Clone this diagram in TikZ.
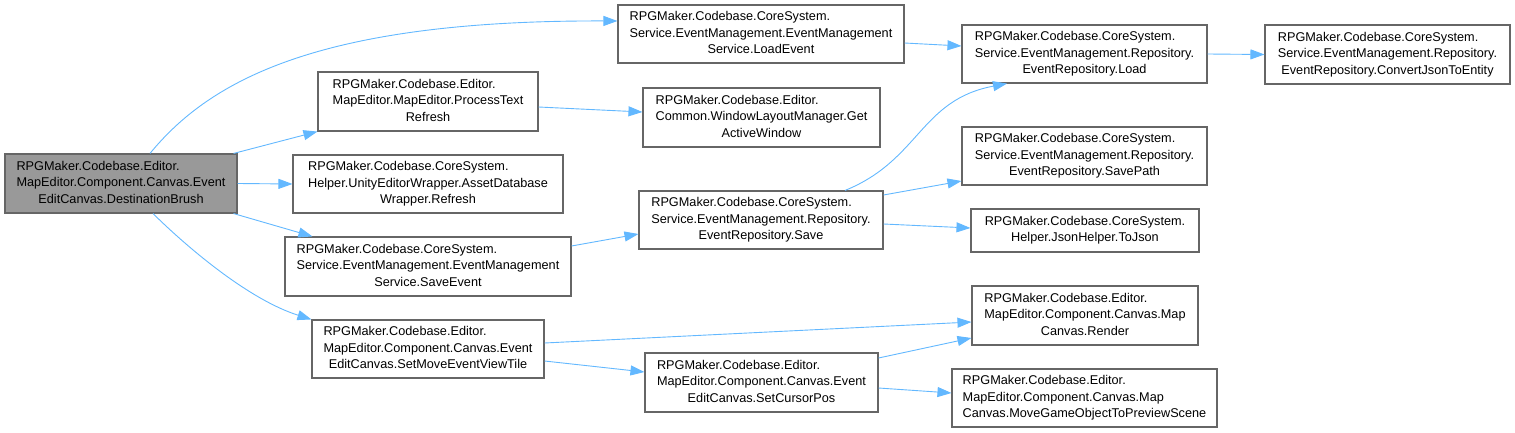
\documentclass[tikz,border=0pt]{standalone}
\usepackage{fontspec}
\setmainfont{Liberation Sans}
\usepackage{tikz}
\usepackage{xcolor}
\usetikzlibrary{arrows.meta,calc}
\definecolor{edgeblue}{HTML}{63B8FF}
\definecolor{boxline}{HTML}{666666}
\definecolor{mainfill}{HTML}{999999}
\newcommand{\calllbl}[2]{\begin{tabular}{@{}l@{}}#1\\\multicolumn{1}{@{}c@{}}{#2}\end{tabular}}
\tikzset{
  fnbox/.style={draw=boxline,fill=white,line width=1.1pt,inner sep=0pt,
                font=\fontsize{12.7}{16.3}\selectfont,text=black},
  mainbox/.style={fnbox,fill=mainfill},
  callarr/.style={-{Triangle[length=14pt,width=10pt,fill=edgeblue]},line width=0.9pt,
                  draw=edgeblue}
}
\begin{document}
\begin{tikzpicture}[x=1pt,y=1pt]
  \useasboundingbox (0,0) rectangle (1515,-433);
  \node[mainbox,minimum width=232,minimum height=59] (main) at (121,-183.5)
    {\calllbl{RPGMaker.Codebase.Editor.\\MapEditor.Component.Canvas.Event}{EditCanvas.DestinationBrush}};
  \node[fnbox,minimum width=286,minimum height=58] (loadevent) at (761,-34)
    {\calllbl{RPGMaker.Codebase.CoreSystem.\\Service.EventManagement.EventManagement}{Service.LoadEvent}};
  \node[fnbox,minimum width=220,minimum height=59] (procrefresh) at (428,-101.5)
    {\calllbl{RPGMaker.Codebase.Editor.\\MapEditor.MapEditor.ProcessText}{Refresh}};
  \node[fnbox,minimum width=270,minimum height=58] (assetrefresh) at (428,-184)
    {\calllbl{RPGMaker.Codebase.CoreSystem.\\Helper.UnityEditorWrapper.AssetDatabase}{Wrapper.Refresh}};
  \node[fnbox,minimum width=286,minimum height=59] (saveevent) at (428,-266.5)
    {\calllbl{RPGMaker.Codebase.CoreSystem.\\Service.EventManagement.EventManagement}{Service.SaveEvent}};
  \node[fnbox,minimum width=232,minimum height=58] (setmove) at (428,-349)
    {\calllbl{RPGMaker.Codebase.Editor.\\MapEditor.Component.Canvas.Event}{EditCanvas.SetMoveEventViewTile}};
  \node[fnbox,minimum width=237,minimum height=59] (activewin) at (761.5,-117.5)
    {\calllbl{RPGMaker.Codebase.Editor.\\Common.WindowLayoutManager.Get}{ActiveWindow}};
  \node[fnbox,minimum width=244,minimum height=58] (reposave) at (761,-220)
    {\calllbl{RPGMaker.Codebase.CoreSystem.\\Service.EventManagement.Repository.}{EventRepository.Save}};
  \node[fnbox,minimum width=233,minimum height=59] (setcursor) at (761.5,-382.5)
    {\calllbl{RPGMaker.Codebase.Editor.\\MapEditor.Component.Canvas.Event}{EditCanvas.SetCursorPos}};
  \node[fnbox,minimum width=245,minimum height=58] (repoload) at (1084.5,-54)
    {\calllbl{RPGMaker.Codebase.CoreSystem.\\Service.EventManagement.Repository.}{EventRepository.Load}};
  \node[fnbox,minimum width=245,minimum height=58] (savepath) at (1084.5,-156)
    {\calllbl{RPGMaker.Codebase.CoreSystem.\\Service.EventManagement.Repository.}{EventRepository.SavePath}};
  \node[fnbox,minimum width=228,minimum height=43] (tojson) at (1085,-230.5)
    {\calllbl{RPGMaker.Codebase.CoreSystem.}{Helper.JsonHelper.ToJson}};
  \node[fnbox,minimum width=226,minimum height=59] (render) at (1085,-315.5)
    {\calllbl{RPGMaker.Codebase.Editor.\\MapEditor.Component.Canvas.Map}{Canvas.Render}};
  \node[fnbox,minimum width=265,minimum height=58] (movegame) at (1084.5,-398)
    {\calllbl{RPGMaker.Codebase.Editor.\\MapEditor.Component.Canvas.Map}{Canvas.MoveGameObjectToPreviewScene}};
  \node[fnbox,minimum width=245,minimum height=59] (convert) at (1387.5,-54.5)
    {\calllbl{RPGMaker.Codebase.CoreSystem.\\Service.EventManagement.Repository.}{EventRepository.ConvertJsonToEntity}};

  \draw[callarr] ([xshift=29]main.north) .. controls (210,-80) and (320,-20) .. ([yshift=13]loadevent.west);
  \draw[callarr] ([xshift=-4]main.north east) -- (procrefresh.south west);
  \draw[callarr] (main.east) -- (assetrefresh.west);
  \draw[callarr] ([xshift=-4]main.south east) -- ([xshift=28]saveevent.north west);
  \draw[callarr] ([xshift=32]main.south) .. controls (190,-250) and (250,-300) .. (setmove.north west);
  \draw[callarr] ([yshift=-9]loadevent.east) -- ([yshift=8]repoload.west);
  \draw[callarr] (repoload.east) -- (convert.west);
  \draw[callarr] ([yshift=-5.5]procrefresh.east) -- ([yshift=5.5]activewin.west);
  \draw[callarr] ([yshift=20.5]saveevent.east) -- ([yshift=-14]reposave.west);
  \draw[callarr] ([xshift=84]reposave.north) .. controls (920,-160) and (920,-100) .. ([xshift=-77.5]repoload.south);
  \draw[callarr] ([yshift=25]reposave.east) -- ([yshift=-25]savepath.west);
  \draw[callarr] ([yshift=-4]reposave.east) -- ([yshift=2.5]tojson.west);
  \draw[callarr] ([yshift=6]setmove.east) -- ([yshift=-6.5]render.west);
  \draw[callarr] ([yshift=-12]setmove.east) -- ([yshift=10.5]setcursor.west);
  \draw[callarr] ([yshift=24.5]setcursor.east) -- ([yshift=-22.5]render.west);
  \draw[callarr] ([yshift=-5.5]setcursor.east) -- ([yshift=5]movegame.west);
\end{tikzpicture}
\end{document}
